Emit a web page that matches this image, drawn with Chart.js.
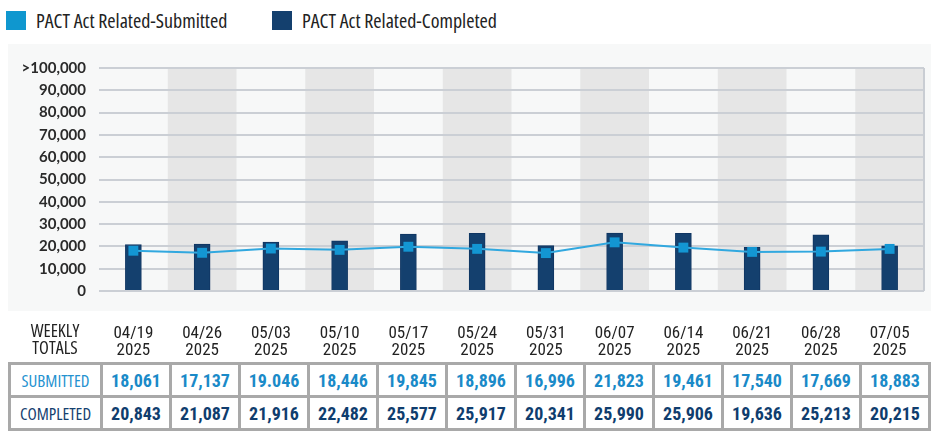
<!DOCTYPE html>
<html>
<head>
<meta charset="utf-8">
<script src="https://cdn.jsdelivr.net/npm/chart.js@4.4.1/dist/chart.umd.min.js"></script>
<style>
  html, body { margin:0; padding:0; background:#ffffff; }
  body { width:931px; height:434px; position:relative; overflow:hidden; }
  #wrap { position:absolute; left:0; top:0; width:931px; height:362px; }
  .leg { position:absolute; top:11px; height:19px; display:flex; align-items:center; font-family:"Open Sans",sans-serif; font-stretch:condensed; font-size:20px; color:#222; white-space:nowrap; }
  .leg i { display:inline-block; width:20px; height:19px; margin-right:10px; }
  #weekly { position:absolute; left:15px; width:80px; top:322px; text-align:center; font-family:"Open Sans",sans-serif; font-stretch:condensed; font-size:18px; line-height:17px; color:#222; }
  table { position:absolute; left:8px; top:362px; border-collapse:collapse; table-layout:fixed; }
  td { border:3px solid #a9a9a9; height:30px; padding:0; text-align:center; font-family:"Roboto Condensed",sans-serif; font-size:18px; font-weight:bold; }
  td.h { font-family:"Open Sans",sans-serif; font-stretch:condensed; font-weight:normal; font-size:17px; }
  tr.s td { color:#1a8ac8; }
  tr.c td { color:#0f3d6e; }
  tr.s td.h { color:#2592d0; }
  tr.c td.h { color:#15416f; }
</style>
</head>
<body>
<div id="legend"></div>
<div id="wrap"><canvas id="c" width="931" height="362"></canvas></div>
<div id="weekly">WEEKLY<br>TOTALS</div>
<table id="tbl"></table>
<script>
const weeks = ['04/19','04/26','05/03','05/10','05/17','05/24','05/31','06/07','06/14','06/21','06/28','07/05'];
const year = '2025';
const submitted = [18061,17137,19046,18446,19845,18896,16996,21823,19461,17540,17669,18883];
const completed = [20843,21087,21916,22482,25577,25917,20341,25990,25906,19636,25213,20215];
const submittedText = ['18,061','17,137','19.046','18,446','19,845','18,896','16,996','21,823','19,461','17,540','17,669','18,883'];
const completedText = ['20,843','21,087','21,916','22,482','25,577','25,917','20,341','25,990','25,906','19,636','25,213','20,215'];
const yTicks = [0,10000,20000,30000,40000,50000,60000,70000,80000,90000,100000];
const seriesNames = ['PACT Act Related-Submitted','PACT Act Related-Completed'];
const seriesColors = ['#0f97cf','#14406e'];

const labels = weeks.map(w => [w, year]);

// legend (HTML)
const legendLeft = [6, 272];
const legEl = document.getElementById('legend');
seriesNames.forEach((n, i) => {
  const d = document.createElement('div');
  d.className = 'leg';
  d.style.left = legendLeft[i] + 'px';
  d.innerHTML = '<i style="background:' + seriesColors[i] + '"></i>' + n;
  legEl.appendChild(d);
});

// table
const tbl = document.getElementById('tbl');
const cg = document.createElement('colgroup');
let colHtml = '<col style="width:92px">';
for (let i = 0; i < weeks.length; i++) colHtml += '<col style="width:69px">';
cg.innerHTML = colHtml;
tbl.appendChild(cg);
const r1 = document.createElement('tr'); r1.className = 's';
r1.innerHTML = '<td class="h">SUBMITTED</td>' + submittedText.map(t => '<td>' + t + '</td>').join('');
const r2 = document.createElement('tr'); r2.className = 'c';
r2.innerHTML = '<td class="h">COMPLETED</td>' + completedText.map(t => '<td>' + t + '</td>').join('');
tbl.appendChild(r1); tbl.appendChild(r2);

const bgPlugin = {
  id: 'bg',
  beforeDraw(chart) {
    const ctx = chart.ctx, ca = chart.chartArea, x = chart.scales.x;
    ctx.save();
    ctx.fillStyle = '#f7f8f8';
    ctx.fillRect(8, 44, 923, 267);
    const w = (ca.right - ca.left) / weeks.length;
    ctx.fillStyle = '#e6e6e6';
    weeks.forEach((_, i) => {
      if (i % 2 === 1) {
        const cx = x.getPixelForValue(i);
        ctx.fillRect(cx - w / 2, ca.top, w, ca.bottom - ca.top);
      }
    });
    ctx.restore();
  },
  beforeDatasetsDraw(chart) {
    const ctx = chart.ctx, ca = chart.chartArea;
    ctx.save();
    ctx.strokeStyle = '#c9cdd3';
    ctx.lineWidth = 2;
    ctx.beginPath();
    ctx.moveTo(ca.right, ca.top);
    ctx.lineTo(ca.right, ca.bottom);
    ctx.stroke();
    ctx.restore();
  }
};

new Chart(document.getElementById('c'), {
  data: {
    labels: labels,
    datasets: [
      {
        type: 'line', label: seriesNames[0], data: submitted, order: 0,
        borderColor: '#31a8df', borderWidth: 2, backgroundColor: seriesColors[0],
        pointStyle: 'rect', pointRadius: 7, pointBorderWidth: 0,
        pointBackgroundColor: '#1396d3', tension: 0
      },
      {
        type: 'bar', label: seriesNames[1], data: completed, order: 1,
        backgroundColor: seriesColors[1], borderColor: '#0f3562', borderWidth: 1,
        barThickness: 16
      }
    ]
  },
  options: {
    responsive: false,
    animation: false,
    devicePixelRatio: 1,
    layout: { padding: { left: 0, right: 7, top: 68, bottom: 0 } },
    plugins: { legend: { display: false }, tooltip: { enabled: false } },
    scales: {
      x: {
        grid: { display: false, drawTicks: false },
        border: { display: false },
        afterFit(s) { s.height = 71; s.paddingLeft = 0; s.paddingRight = 0; },
        ticks: {
          padding: 34, color: '#222', maxRotation: 0, autoSkip: false,
          font: { family: '"Roboto Condensed",sans-serif', size: 17, lineHeight: 1.0 }
        }
      },
      y: {
        min: 0, max: 100000,
        afterFit(s) { s.width = 99; },
        afterBuildTicks(s) { s.ticks = yTicks.map(v => ({ value: v })); },
        grid: { color: '#cbcfd5', lineWidth: 2, drawTicks: false },
        border: { display: false },
        ticks: {
          padding: 13, color: '#2a2a2a',
          font: { family: 'Lato,"Open Sans",sans-serif', size: 15, weight: 'bold' },
          callback: v => (v === 100000 ? '>' : '') + v.toLocaleString('en-US')
        }
      }
    }
  },
  plugins: [bgPlugin]
});
</script>
</body>
</html>
